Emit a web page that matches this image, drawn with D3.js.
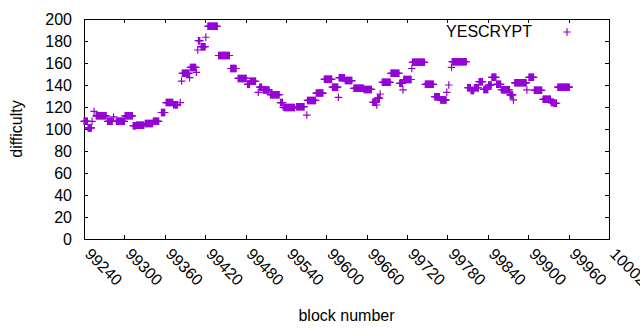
<!DOCTYPE html>
<html>
<head>
<meta charset="utf-8">
<script src="https://cdn.jsdelivr.net/npm/d3@7"></script>
<style>
    body { margin: 0; background: #fff; }
    text { font-family: "Liberation Sans", Arial, sans-serif; font-size: 16px; fill: #000; }
</style>
</head>
<body>
<script>
// runs of consecutive blocks with the same difficulty
const runStart = [99240,99246,99252,99255,99258,99275,99284,99288,99301,99313,99318,99331,99343,99355,99362,99373,99383,99385,99386,99397,99398,99407,99409,99410,99414,99421,99424,99440,99458,99469,99483,99487,99499,99501,99506,99517,99532,99536,99538,99556,99571,99572,99585,99597,99609,99618,99619,99628,99641,99656,99669,99675,99676,99680,99683,99696,99709,99714,99715,99727,99728,99747,99761,99770,99779,99782,99786,99787,99810,99815,99820,99827,99834,99841,99846,99853,99860,99873,99878,99880,99898,99901,99909,99922,99934,99938,99944];
const runEnd   = [99245,99251,99252,99255,99273,99282,99284,99300,99312,99317,99329,99342,99351,99360,99372,99379,99383,99385,99396,99397,99406,99407,99409,99412,99420,99421,99438,99456,99466,99481,99486,99495,99499,99504,99515,99530,99535,99536,99553,99567,99571,99584,99595,99608,99617,99618,99627,99638,99655,99667,99674,99675,99679,99680,99695,99708,99713,99714,99726,99727,99746,99759,99768,99778,99779,99782,99786,99808,99814,99819,99826,99832,99840,99845,99852,99859,99872,99877,99878,99897,99898,99908,99920,99933,99937,99942,99961];
const runDiff  = [107,101,107,116,112,107,111,107,112,103,103.5,105,107,115,124,122,124,143.6,150.6,146.7,156,151.5,171.8,180.3,174.8,183.4,193.4,166.8,155,146,140.6,143.4,133.3,138,135.5,131.2,124,119.7,119.5,120.3,112.7,126,132.7,145.2,138,128.8,146.7,144,137,136,124.3,121.8,128,131.8,142.5,150.6,141.5,135.5,145,155,160.6,140.6,129.4,126.4,133.3,140,156,161.2,137.5,135,137.5,143,136,140,147,140.6,135.7,131,126.4,142,135.5,147,135.2,127,124,123.4,138];

const xTicks = d3.range(99240, 100021, 60);
const yTicks = d3.range(0, 201, 20);
const seriesName = "YESCRYPT";

const width = 640, height = 330;
const margin = {left: 84, right: 31, top: 19, bottom: 91};
const color = "#9400d3";

const points = [];
runStart.forEach((s, i) => {
    for (let b = s; b <= runEnd[i]; b++) points.push({block: b, diff: runDiff[i]});
});

const svg = d3.select("body").append("svg")
    .attr("width", width)
    .attr("height", height);

const x = d3.scaleLinear()
    .domain([99240, 100020])
    .range([margin.left, width - margin.right]);

const y = d3.scaleLinear()
    .domain([0, 200])
    .range([height - margin.bottom, margin.top]);

const plus = "M-3.75,0H3.75M0,-3.75V3.75";

// ticks (inward, mirrored)
const tl = 4;
const ax = svg.append("g").attr("stroke", "#000").attr("stroke-width", 1);
xTicks.forEach(t => {
    const px = Math.round(x(t)) + 0.5;
    ax.append("line").attr("x1", px).attr("x2", px).attr("y1", y(0)).attr("y2", y(0) - tl);
    ax.append("line").attr("x1", px).attr("x2", px).attr("y1", y(200)).attr("y2", y(200) + tl);
});
yTicks.forEach(t => {
    const py = Math.round(y(t)) + 0.5;
    ax.append("line").attr("x1", x.range()[0]).attr("x2", x.range()[0] + tl).attr("y1", py).attr("y2", py);
    ax.append("line").attr("x1", x.range()[1]).attr("x2", x.range()[1] - tl).attr("y1", py).attr("y2", py);
});

svg.append("rect")
    .attr("x", x.range()[0] + 0.5)
    .attr("y", y(200) + 0.5)
    .attr("width", x.range()[1] - x.range()[0])
    .attr("height", y(0) - y(200))
    .attr("fill", "none")
    .attr("stroke", "#000")
    .attr("stroke-width", 1);

svg.selectAll(".ytl")
    .data(yTicks)
    .enter()
    .append("text")
    .attr("class", "ytl")
    .attr("x", 72)
    .attr("y", d => y(d))
    .attr("dy", "0.35em")
    .attr("text-anchor", "end")
    .text(d => d);

svg.selectAll(".xtl")
    .data(xTicks)
    .enter()
    .append("text")
    .attr("class", "xtl")
    .attr("transform", d => `translate(${x(d)},${255}) rotate(45)`)
    .attr("text-anchor", "start")
    .text(d => d);

svg.append("text")
    .attr("transform", `translate(22,${(y(0) + y(200)) / 2}) rotate(-90)`)
    .attr("text-anchor", "middle")
    .text("difficulty");

svg.append("text")
    .attr("x", (x.range()[0] + x.range()[1]) / 2)
    .attr("y", 321)
    .attr("text-anchor", "middle")
    .text("block number");

// points
svg.append("g")
    .selectAll("path")
    .data(points)
    .enter()
    .append("path")
    .attr("d", plus)
    .attr("transform", d => `translate(${x(d.block)},${y(d.diff)})`)
    .attr("stroke", color)
    .attr("stroke-width", 1.2)
    .attr("fill", "none");

// key
svg.append("text")
    .attr("x", 532)
    .attr("y", 37)
    .attr("text-anchor", "end")
    .text(seriesName);

svg.append("path")
    .attr("d", plus)
    .attr("transform", "translate(567,32)")
    .attr("stroke", color)
    .attr("stroke-width", 1.2)
    .attr("fill", "none");
</script>
</body>
</html>
